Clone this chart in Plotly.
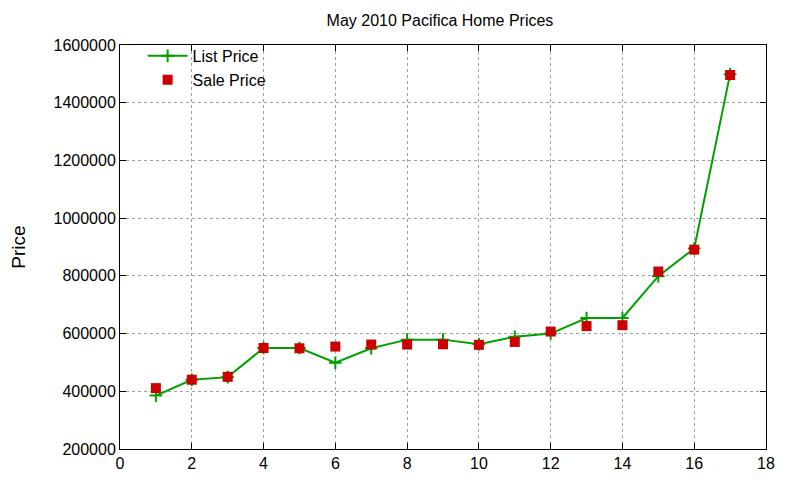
import plotly.graph_objects as go

# Data
homes = list(range(1, 18))
list_price = [385000, 440000, 449000, 550000, 550000, 499000, 549000, 579000, 579000,
              563000, 589000, 600000, 654000, 654000, 799000, 895000, 1499000]
sale_price = [411000, 440000, 450000, 550000, 549000, 555000, 562000, 562000, 563000,
              561000, 571000, 607000, 626000, 629000, 815000, 891000, 1496000]

font = "Liberation Sans, Arial, sans-serif"

fig = go.Figure()

fig.add_trace(go.Scatter(
    x=homes, y=list_price,
    mode="lines+markers",
    name="List Price",
    line=dict(color="#00a000", width=2),
    marker=dict(symbol="cross-thin-open", size=9, line=dict(color="#00a000", width=2))
))

fig.add_trace(go.Scatter(
    x=homes, y=sale_price,
    mode="markers",
    name="Sale Price",
    marker=dict(symbol="square", size=10, color="#cc0000")
))

# page body adds an 8px offset, margins compensate
fig.update_layout(
    width=800, height=480,
    plot_bgcolor="white", paper_bgcolor="white",
    font=dict(family=font, size=16, color="black"),
    title=dict(text="May 2010 Pacifica Home Prices", x=0.54, xanchor="center",
               y=0.975, yanchor="middle", font=dict(size=16)),
    margin=dict(l=112, r=42, t=37, b=39, autoexpand=False),
    legend=dict(x=0.035, y=1.015, xanchor="left", yanchor="top",
                bgcolor="rgba(0,0,0,0)", font=dict(size=16),
                tracegroupgap=0, itemwidth=40),
    showlegend=True
)

axis_style = dict(
    showline=True, linecolor="black", linewidth=1, mirror="allticks",
    ticks="inside", ticklen=6, tickcolor="black",
    showgrid=True, gridcolor="#a0a0a0", griddash="dot", gridwidth=1,
    zeroline=False, tickfont=dict(size=16)
)

fig.update_xaxes(range=[0, 18], dtick=2, **axis_style)
fig.update_yaxes(range=[200000, 1600000], dtick=200000, tickformat="d",
                 title=dict(text="Price", standoff=34), **axis_style)

fig.write_html("out.html")
